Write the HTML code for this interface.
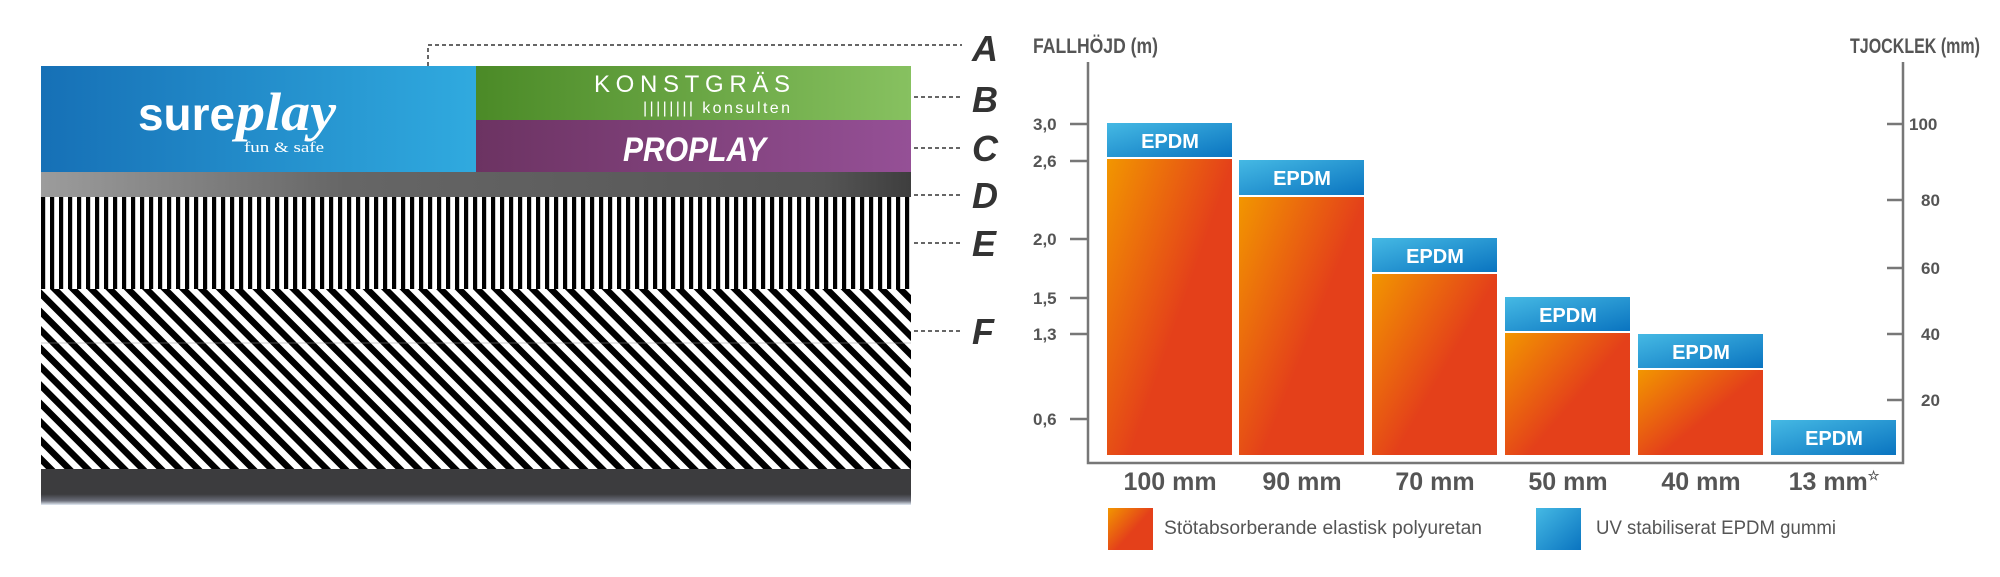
<!DOCTYPE html>
<html><head><meta charset="utf-8">
<style>html,body{margin:0;padding:0;background:#fff}svg{display:block}</style>
</head><body>
<svg width="2000" height="577" viewBox="0 0 2000 577" xmlns="http://www.w3.org/2000/svg" font-family="Liberation Sans Narrow, Liberation Sans, sans-serif">
<defs>
<linearGradient id="blue" x1="0" x2="1" y1="0" y2="0"><stop offset="0" stop-color="#1670b6"/><stop offset="1" stop-color="#30aadf"/></linearGradient>
<linearGradient id="green" x1="0" x2="1"><stop offset="0" stop-color="#4b8a27"/><stop offset="1" stop-color="#87c160"/></linearGradient>
<linearGradient id="purple" x1="0" x2="1"><stop offset="0" stop-color="#6c3362"/><stop offset="1" stop-color="#955096"/></linearGradient>
<linearGradient id="gray" x1="0" x2="1"><stop offset="0" stop-color="#9c9c9c"/><stop offset="0.35" stop-color="#666"/><stop offset="0.9" stop-color="#555"/><stop offset="1" stop-color="#3e3e3e"/></linearGradient>
<linearGradient id="bottom" x1="0" x2="0" y1="0" y2="1"><stop offset="0" stop-color="#3c3c3e"/><stop offset="0.7" stop-color="#3c3c3e"/><stop offset="0.88" stop-color="#6a6d78"/><stop offset="1" stop-color="#e4ecf6"/></linearGradient>
<linearGradient id="org" x1="0" y1="0" x2="0.6" y2="0.5"><stop offset="0" stop-color="#f29600"/><stop offset="1" stop-color="#e4401a"/></linearGradient>
<linearGradient id="epdm" x1="0" y1="0" x2="1" y2="1"><stop offset="0" stop-color="#45b9e4"/><stop offset="1" stop-color="#0a74c0"/></linearGradient>
<pattern id="vs" width="9" height="10" patternUnits="userSpaceOnUse" x="41"><rect width="9" height="10" fill="#fff"/><rect x="0" width="4.2" height="10" fill="#000"/></pattern>
<pattern id="ds" width="13" height="13" patternUnits="userSpaceOnUse" patternTransform="rotate(-45)"><rect width="13" height="13" fill="#fff"/><rect width="6.5" height="13" fill="#000"/></pattern>
</defs>

<rect x="41" y="66" width="435" height="106" fill="url(#blue)"/>
<rect x="476" y="66" width="435" height="54" fill="url(#green)"/>
<rect x="476" y="120" width="435" height="52" fill="url(#purple)"/>
<rect x="41" y="172" width="870" height="25" fill="url(#gray)"/>
<rect x="41" y="197" width="870" height="92" fill="url(#vs)"/>
<rect x="41" y="289" width="870" height="180" fill="url(#ds)"/>
<line x1="41" y1="343" x2="911" y2="343" stroke="#999" stroke-width="1" opacity="0.5"/>
<rect x="41" y="469" width="870" height="36" fill="url(#bottom)"/>

<text x="138" y="130" font-family="Liberation Sans, sans-serif" font-weight="bold" font-size="46" fill="#fff" textLength="97" lengthAdjust="spacingAndGlyphs">sure</text>
<text x="236" y="130" font-family="Liberation Serif, serif" font-style="italic" font-weight="bold" font-size="54" fill="#fff" textLength="100" lengthAdjust="spacingAndGlyphs">play</text>
<text x="244" y="152" font-family="Liberation Serif, serif" font-size="15" fill="#fff" textLength="80" lengthAdjust="spacingAndGlyphs">fun &amp; safe</text>
<text x="594" y="92" font-family="Liberation Sans, sans-serif" font-size="24" fill="#fff" textLength="196" lengthAdjust="spacing">KONSTGRÄS</text>
<text x="643" y="113" font-family="Liberation Sans, sans-serif" font-size="16" fill="#fff" textLength="147" lengthAdjust="spacing">|||||||| konsulten</text>
<text x="623" y="161" font-weight="bold" font-style="italic" font-size="34" fill="#fff" textLength="143" lengthAdjust="spacingAndGlyphs">PROPLAY</text>

<g stroke="#333" stroke-width="1.5" stroke-dasharray="4,3" fill="none">
<polyline points="428,66 428,45 962,45"/>
<line x1="914" y1="97" x2="962" y2="97"/>
<line x1="914" y1="148" x2="962" y2="148"/>
<line x1="914" y1="195" x2="962" y2="195"/>
<line x1="914" y1="243" x2="962" y2="243"/>
<line x1="914" y1="331" x2="962" y2="331"/>
</g>
<g font-weight="bold" font-style="italic" font-size="36" fill="#333">
<text x="972" y="61">A</text><text x="972" y="112">B</text><text x="972" y="161">C</text>
<text x="972" y="208">D</text><text x="972" y="256">E</text><text x="972" y="344">F</text>
</g>

<g fill="#555" font-weight="bold">
<text x="1033" y="53" font-size="21" textLength="125" lengthAdjust="spacingAndGlyphs">FALLHÖJD (m)</text>
<text x="1980" y="53" font-size="21" text-anchor="end" textLength="130" lengthAdjust="spacingAndGlyphs">TJOCKLEK (mm)</text>
</g>
<g stroke="#777" stroke-width="2.5" fill="none">
<polyline points="1088,62 1088,463 1903,463 1903,62"/>
<line x1="1070" y1="124" x2="1088" y2="124"/><line x1="1070" y1="161" x2="1088" y2="161"/>
<line x1="1070" y1="239" x2="1088" y2="239"/><line x1="1070" y1="298" x2="1088" y2="298"/>
<line x1="1070" y1="334" x2="1088" y2="334"/><line x1="1070" y1="419" x2="1088" y2="419"/>
<line x1="1887" y1="124" x2="1903" y2="124"/><line x1="1887" y1="200" x2="1903" y2="200"/>
<line x1="1887" y1="268" x2="1903" y2="268"/><line x1="1887" y1="334" x2="1903" y2="334"/>
<line x1="1887" y1="400" x2="1903" y2="400"/>
</g>
<g fill="#555" font-weight="bold" font-size="17">
<text x="1033" y="130">3,0</text><text x="1033" y="167">2,6</text><text x="1033" y="245">2,0</text>
<text x="1033" y="304">1,5</text><text x="1033" y="340">1,3</text><text x="1033" y="425">0,6</text>
<text x="1909" y="130">100</text><text x="1921" y="206">80</text><text x="1921" y="274">60</text>
<text x="1921" y="340">40</text><text x="1921" y="406">20</text>
</g>

<g>
<rect x="1107" y="159" width="125" height="296" fill="url(#org)"/>
<rect x="1107" y="123" width="125" height="34" fill="url(#epdm)"/>
<rect x="1239" y="197" width="125" height="258" fill="url(#org)"/>
<rect x="1239" y="160" width="125" height="35" fill="url(#epdm)"/>
<rect x="1372" y="274" width="125" height="181" fill="url(#org)"/>
<rect x="1372" y="238" width="125" height="34" fill="url(#epdm)"/>
<rect x="1505" y="333" width="125" height="122" fill="url(#org)"/>
<rect x="1505" y="297" width="125" height="34" fill="url(#epdm)"/>
<rect x="1638" y="370" width="125" height="85" fill="url(#org)"/>
<rect x="1638" y="334" width="125" height="34" fill="url(#epdm)"/>
<rect x="1771" y="420" width="125" height="35" fill="url(#epdm)"/>
</g>
<g fill="#fff" font-weight="bold" font-size="20" text-anchor="middle">
<text x="1170" y="148">EPDM</text><text x="1302" y="185">EPDM</text><text x="1435" y="263">EPDM</text>
<text x="1568" y="322">EPDM</text><text x="1701" y="359">EPDM</text><text x="1834" y="445">EPDM</text>
</g>
<g fill="#555" font-weight="bold" font-size="25" text-anchor="middle">
<text x="1170" y="490">100 mm</text><text x="1302" y="490">90 mm</text><text x="1435" y="490">70 mm</text>
<text x="1568" y="490">50 mm</text><text x="1701" y="490">40 mm</text><text x="1834" y="490">13 mm<tspan font-size="13" dy="-10">☆</tspan></text>
</g>
<rect x="1108" y="508" width="45" height="42" fill="url(#org)"/>
<rect x="1536" y="508" width="45" height="42" fill="url(#epdm)"/>
<g fill="#555" font-size="19">
<text x="1164" y="534" textLength="318" lengthAdjust="spacingAndGlyphs">Stötabsorberande elastisk polyuretan</text>
<text x="1596" y="534" textLength="240" lengthAdjust="spacingAndGlyphs">UV stabiliserat EPDM gummi</text>
</g>
</svg>
</body></html>
